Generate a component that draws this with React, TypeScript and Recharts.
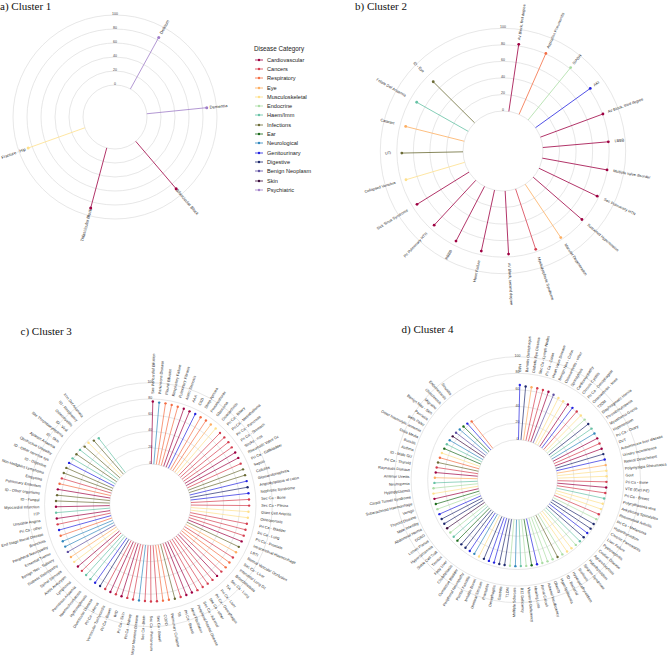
import { PolarAngleAxis, PolarGrid, PolarRadiusAxis, Radar, RadarChart } from "recharts";

// legend order + colours (Spectral-ish palette used by the figure)
const CATEGORIES = [
  "Cardiovascular", "Cancers", "Respiratory", "Eye", "Musculoskeletal", "Endocrine",
  "Haem/Imm", "Infections", "Ear", "Neurological", "Genitourinary", "Digestive",
  "Benign Neoplasm", "Skin", "Psychiatric",
];
const CAT_KEYS = ["CV", "Can", "Res", "Eye", "MSK", "End", "Hae", "Inf", "Ear", "Neu", "GU", "Dig", "Ben", "Ski", "Psy"];
const CAT_COLORS = [
  "#9e0142", "#d53e4f", "#f46d43", "#fdae61", "#fee08b", "#abdda4", "#66c2a5", "#6b6b35",
  "#1b6b1b", "#3288bd", "#2424e0", "#1f2a6e", "#5e4fa2", "#3f0f3f", "#a07ec8",
];

// ---- cluster 1 ----
const C1_LABELS = ["Delirium", "Dementia", "Bifascicular Block", "Trifascicular Block", "Fracture - Hip"];
const C1_VALUES = [84, 86, 89, 89, 86];
const C1_CATS = ["Psy", "Psy", "CV", "CV", "MSK"];

// ---- cluster 2 ----
const C2_LABELS = [
  "AV Block, first degree", "Aspiration Pneumonitis", "SIADH", "AKI", "AV Block, third degree",
  "LBBB", "Multiple valve disorder", "Sec Pulmonary HTN", "Sustained Hypertension",
  "Macular Degeneration", "Myelodysplastic Syndrome", "AV Block, second degree", "Heart Failure",
  "RBBB", "Pri Pulmonary HTN", "Sick Sinus Syndrome", "Collapsed Vertebra", "UTI", "Cataract",
  "Folate Def Anaemia", "ID - Eye",
];
const C2_VALUES = [82, 80.5, 81.5, 81.5, 80.5, 79.5, 79.5, 78, 78, 77.5, 77, 76.5, 75.5, 74.5, 74, 74, 74, 74, 73, 71.5, 70.5];
const C2_CATS = ["CV", "Res", "End", "GU", "CV", "CV", "CV", "CV", "CV", "Eye", "Can", "CV", "CV", "CV", "CV", "CV", "MSK", "Inf", "Eye", "Hae", "Inf"];

// ---- cluster 3 ----
const C3_LABELS = [
  "Sec Pericardial Effusion", "Parkinsons Disease", "Pleural Effusion", "Respiratory Failure",
  "Pulmonary Fibrosis", "Aortic Stenosis", "AAA", "CKD", "Sleep Apnoea", "Pneumothorax",
  "Glaucoma", "Osteoarthritis", "Pri Ca - Biliary", "Pri Ca - Mesothelioma", "Pri Ca - Pancreas",
  "Pri Ca - Stomach", "Stroke - nos", "Rheumatic Valve Dz", "Pri Ca - Gallbladder", "Sepsis",
  "Cellulitis", "Glomerulonephritis", "Angiodysplasia of colon", "Nephrotic Syndrome",
  "Sec Ca - Bone", "Sec Ca - Pleura", "Giant Cell Arteritis", "Osteoporosis", "Pri Ca - Bladder",
  "Pri Ca - Lung", "Pri Ca - Prostate", "Intracerebral Haemorrhage", "LRTI",
  "Retinal Vascular Occlusion", "Sec Ca - Liver", "Interstitial Lung Dz", "Bronchiectasis",
  "Sec Ca - Lung", "TIA", "Pri Ca - Liver", "Pri Ca - Oesophagus", "Sec Ca - other",
  "Sec Ca - Adrenal", "Peripheral Arterial Disease", "Atrial Fibrillation", "Pri Ca - Breast",
  "TB", "Pulmonary Collapse", "COPD", "Sec Ca - Bowel", "Sec Ca - Peritoneum", "Sec Ca - Brain",
  "Motor Neurone Disease", "Pri Ca - Kidney", "Pri Ca - Skin", "IHD", "Pri Ca - Bowel",
  "Ventricular Tachycardia", "Pri Ca - Uterus", "Diverticular Disease", "Hydronephrosis",
  "Haemochromatosis", "Pernicious Anaemia", "Lymphoma", "Aortic Aneurysm", "Spinal Stenosis",
  "Diabetic Retinopathy", "Benign Neo - Salivary", "Essential Tremor", "Peripheral Neuropathy",
  "Bronchitis", "End Stage Renal Disease", "Pri Ca - other", "Unstable Angina", "ITP",
  "Myocardial Infarction", "ID - Fungal", "ID - Other organisms", "Pulmonary Embolism", "Empyema",
  "Non-Hodgkins Lymphoma", "ID - Digestive", "ID - Other nervous sys", "Obstructive Uropathy",
  "Aplastic Anaemia", "ID - Skin", "Sec Thrombocytopenia", "ID - Viral", "Osteomyelitis",
  "ID - Respiratory", "Iron Def Anaemia",
];
const C3_VALUES = [
  77, 76, 76, 75.5, 75, 75, 74.5, 74.5, 74, 74,
  73.5, 73.5, 73, 73, 73, 72.5, 72.5, 72.5, 72, 72,
  72, 72, 71.5, 71.5, 71.5, 71.5, 71, 71, 71, 71,
  71, 71, 70.5, 70.5, 70.5, 70.5, 70.5, 70, 70, 70,
  70, 70, 70, 69.5, 69.5, 69.5, 69.5, 69, 69, 69,
  69, 68.5, 68.5, 68.5, 68, 68, 68, 68, 67.5, 67.5,
  67.5, 67.5, 67, 67, 67, 67, 66.8, 66.8, 66.6, 66.6,
  66.6, 66.4, 66.4, 66.2, 66.2, 66,
  66, 65.2, 65.2, 64.5, 63.5, 63.3, 62.7, 62.3, 61.3, 60, 59.6, 57.8, 57.6, 55, 53.3,
];
const C3_CATS = [
  "CV", "Neu", "Res", "Res", "Res", "CV", "CV", "GU", "Res", "Res",
  "Eye", "MSK", "Can", "Can", "Can", "Can", "CV", "CV", "Can", "Inf",
  "Inf", "GU", "Dig", "GU", "Can", "Can", "MSK", "MSK", "Can", "Can",
  "Can", "CV", "Inf", "Eye", "Can", "Res", "Res", "Can", "CV", "Can",
  "Can", "Can", "Can", "CV", "CV", "Can", "Inf", "Res", "Res", "Can",
  "Can", "Can", "Neu", "Can", "Can", "CV", "Can", "CV", "Can", "Dig",
  "GU", "Hae", "Hae", "Can", "CV", "MSK", "Eye", "Ben", "Neu", "Neu",
  "Res", "GU", "Can", "CV", "Hae", "CV", "Inf", "Inf", "CV", "Res",
  "Can", "Inf", "Inf", "GU", "Hae", "Inf", "Hae", "Inf", "MSK", "Inf", "Hae",
];

// ---- cluster 4 ----
const C4_LABELS = [
  "BPH", "Barretts Oesophagus", "Diabetic Eye Disease", "Sec Ca - Lymph Nodes", "Pri Ca - Colon",
  "Heart Valve Disease", "Benign Neo - Colon", "Osteoarthritis - other", "Spondylosis",
  "Cardiomyopathy", "Chronic Cystitis", "Pri Ca - Oesophageal", "Osteoarthritis - knee", "T2DM",
  "Diaphragmatic Hernia", "Thrombocytopenia", "Myasthenia Gravis", "Hypertension",
  "Pri Ca - Ovary", "DVT", "Autoimmune liver disease", "Urinary Incontinence",
  "Retinal Detachment", "Polymyalgia Rheumatica", "Gout", "Pri Ca - Bone", "VTE (Excl PE)",
  "Pri Ca - Breast", "Polycythaemia vera", "Ankylosing Spondylitis", "Rheumatoid Arthritis",
  "Pri Ca - Melanoma", "Hyperthyroidism", "Chronic Pancreatitis", "Liver Failure",
  "Pyelonephritis", "Coeliac Disease", "Agranulocytosis", "Hypothyroidism", "Sjogren Syndrome",
  "Scoliosis", "Hyperparathyroidism", "ID - Bacterial", "Hyperlipidaemia", "Obesity",
  "Adrenal Insufficiency", "Renal Calculi", "Hearing Loss", "Vitamin D Deficiency",
  "B12 Deficiency", "Multiple Sclerosis", "T1DM", "Gastritis", "Oesophagitis", "Prostatitis",
  "Urethral Stricture", "Irritable Bowel", "Plantar Fasciitis", "Peripheral Neuropathy",
  "Overactive Bladder", "Cholelithiasis", "Fatty Liver", "Tinnitus", "Sickle Cell Trait",
  "Hypercalcaemia", "Lichen Planus", "GORD", "Abdominal Hernia", "Male Infertility",
  "Thyroid Disease", "Vertigo", "Subarachnoid Haemorrhage", "Carpal Tunnel Syndrome",
  "Hypoglycaemia", "Neutropenia", "Anterior Uveitis", "Raynauds Disease", "Pri Ca - Thyroid",
  "ID - Male GU", "Asthma", "Bursitis", "Otitis Media", "Other haemolytic anaemia",
  "Bells Palsy", "Psoriasis", "Benign Neo - Skin", "Migraine", "Otosclerosis", "Endometriosis",
  "Sinusitis",
];
const C4_VALUES = [
  66, 64.5, 64.5, 64.5, 64.2, 64.2, 63, 62, 61.2, 61,
  60.8, 60.6, 60.5, 60.4, 60.3, 60.2, 60, 60, 59.8, 59.8,
  59.7, 59.6, 59.5, 59.4, 59.2, 59, 59, 58.8, 58.6, 58.5,
  58.4, 58.2, 58, 58, 57.8, 57.6, 57.5, 57.4, 57.2, 57,
  57, 56.8, 56.7, 56.6, 56.6, 56.5, 56.4, 56.3, 56.2, 56,
  56, 55.9, 55.8, 55.7, 55.6, 55.5, 55.4, 55.3, 55.2, 55.1,
  55, 55, 54.9, 54.9, 54.8, 54.8, 54.7, 54.7, 54.6, 54.6,
  54.5, 54.5, 54.4, 53.5, 52, 51.4, 50.7, 50.3, 49.8, 49,
  48.4, 47.6, 47, 46.3, 45.7, 45, 44, 43.2, 42.5, 41.2,
];
const C4_CATS = [
  "GU", "Dig", "Eye", "Can", "Can", "CV", "Ben", "MSK", "MSK", "CV",
  "GU", "Can", "MSK", "End", "Dig", "Hae", "Neu", "CV", "Can", "CV",
  "Dig", "GU", "Eye", "MSK", "MSK", "Can", "CV", "Can", "Hae", "MSK",
  "MSK", "Can", "End", "Dig", "Dig", "GU", "Dig", "Hae", "End", "MSK",
  "MSK", "End", "Inf", "End", "End", "End", "GU", "Ear", "End", "Hae",
  "Neu", "End", "Dig", "Dig", "GU", "GU", "Dig", "MSK", "Neu", "GU",
  "Dig", "Dig", "Ear", "Hae", "End", "Ski", "Dig", "Dig", "GU", "End",
  "Ear", "CV", "MSK", "End", "Hae", "Eye", "CV", "Can", "Inf", "Res",
  "MSK", "Ear", "Hae", "Neu", "Ski", "Ben", "Neu", "Ear", "GU", "Res",
];

const RADIUS_TICKS = [0, 20, 40, 60, 80, 100];
const FONT = "'Liberation Sans', Arial, sans-serif";

function colorOf(cat: string) {
  return CAT_COLORS[CAT_KEYS.indexOf(cat)] ?? "#888";
}

// the figure leaves an empty wedge before 12 o'clock -> pad with hidden slots
function buildRows(labels: string[], values: number[], cats: string[], step: number, trailing: number) {
  const rows: any[] = [];
  labels.forEach((name, i) => {
    rows.push({ name, value: values[i], cat: cats[i] });
    for (let k = 1; k < step; k++) rows.push({ name: `__s${i}_${k}`, value: 0, gap: true });
  });
  for (let k = 0; k < trailing; k++) rows.push({ name: `__t${k}`, value: 0, gap: true });
  return rows;
}

interface PanelCfg {
  left: number; top: number; width: number; height: number;
  cx: number; cy: number; inner: number; outer: number; start: number;
  labelR: number; labelSize: number; dotR: number; lineW: number;
  rows: any[];
}

const PANELS: PanelCfg[] = [
  { left: 0, top: 0, width: 250, height: 260, cx: 115, cy: 117, inner: 32, outer: 102, start: 61.2,
    labelR: 95, labelSize: 4.2, dotR: 1.5, lineW: 0.8, rows: buildRows(C1_LABELS, C1_VALUES, C1_CATS, 2, 3) },
  { left: 335, top: 0, width: 334, height: 320, cx: 168, cy: 151, inner: 40, outer: 122.7, start: 81.6,
    labelR: 112, labelSize: 3.8, dotR: 1.4, lineW: 0.8, rows: buildRows(C2_LABELS, C2_VALUES, C2_CATS, 2, 5) },
  { left: 0, top: 330, width: 330, height: 328, cx: 150.3, cy: 174.7, inner: 40.7, outer: 122, start: 88.6,
    labelR: 111, labelSize: 3.8, dotR: 1.2, lineW: 0.7, rows: buildRows(C3_LABELS, C3_VALUES, C3_CATS, 1, 10) },
  { left: 335, top: 330, width: 334, height: 328, cx: 182.5, cy: 149.7, inner: 40, outer: 123, start: 88.6,
    labelR: 108, labelSize: 3.8, dotR: 1.2, lineW: 0.7, rows: buildRows(C4_LABELS, C4_VALUES, C4_CATS, 1, 10) },
];

function makeStick(cfg: PanelCfg) {
  return (props: any) => {
    const key = `dot-${props.index}`;
    const pt = props.payload ?? {};
    const row = pt.payload ?? pt;
    const x = props.cx, y = props.cy;
    if (!row || row.gap || !Number.isFinite(x) || !Number.isFinite(y)) return <g key={key} />;
    const dx = x - cfg.cx, dy = y - cfg.cy;
    const len = Math.hypot(dx, dy) || 1;
    const color = colorOf(row.cat);
    return (
      <g key={key}>
        <line x1={cfg.cx + (dx / len) * cfg.inner} y1={cfg.cy + (dy / len) * cfg.inner} x2={x} y2={y}
          stroke={color} strokeWidth={cfg.lineW} />
        <circle cx={x} cy={y} r={cfg.dotR} fill={color} />
      </g>
    );
  };
}

function makeTick(cfg: PanelCfg) {
  return (props: any) => {
    const name = String(props.payload?.value ?? "");
    if (!name || name.startsWith("__")) return <g />;
    let a = props.payload?.coordinate;
    if (!Number.isFinite(a)) a = (Math.atan2(cfg.cy - props.y, props.x - cfg.cx) * 180) / Math.PI;
    const deg = ((a % 360) + 540) % 360 - 180; // (-180, 180]
    const rad = (deg * Math.PI) / 180;
    const x = cfg.cx + cfg.labelR * Math.cos(rad);
    const y = cfg.cy - cfg.labelR * Math.sin(rad);
    const right = deg >= -90 && deg <= 90;
    const rot = right ? -deg : 180 - deg;
    return (
      <text x={x} y={y} transform={`rotate(${rot} ${x} ${y})`} textAnchor={right ? "start" : "end"}
        dominantBaseline="central" fontSize={cfg.labelSize} fill="#2b2b2b" fontFamily={FONT}>
        {name}
      </text>
    );
  };
}

function ClusterPanel({ cfg }: { cfg: PanelCfg }) {
  return (
    <div style={{ position: "absolute", left: cfg.left, top: cfg.top }}>
      <RadarChart
        width={cfg.width}
        height={cfg.height}
        data={cfg.rows}
        cx={cfg.cx}
        cy={cfg.cy}
        innerRadius={cfg.inner}
        outerRadius={cfg.outer}
        startAngle={cfg.start}
        endAngle={cfg.start - 360}
        margin={{ top: 0, right: 0, bottom: 0, left: 0 }}
      >
        <PolarGrid gridType="circle" radialLines={false} stroke="#d6d6d6" strokeWidth={0.6} />
        <PolarAngleAxis dataKey="name" tick={makeTick(cfg)} tickLine={false} axisLine={false} />
        <PolarRadiusAxis
          angle={90}
          domain={[0, 100]}
          ticks={RADIUS_TICKS as any}
          tickCount={6}
          orientation="middle"
          axisLine={false}
          tick={{ fontSize: 3.5, fill: "#444", fontFamily: FONT }}
        />
        <Radar
          dataKey="value"
          stroke="none"
          fill="none"
          dot={makeStick(cfg)}
          isAnimationActive={false}
        />
      </RadarChart>
    </div>
  );
}

function CategoryLegend() {
  return (
    <div style={{ position: "absolute", left: 254, top: 45, fontFamily: FONT, color: "#222" }}>
      <div style={{ fontSize: 6.3, lineHeight: "8px", marginBottom: 2 }}>Disease Category</div>
      {CATEGORIES.map((c, i) => (
        <div key={c} style={{ display: "flex", alignItems: "center", height: 9.3 }}>
          <svg width={10} height={6} style={{ marginRight: 3 }}>
            <line x1={1} y1={3} x2={9} y2={3} stroke={CAT_COLORS[i]} strokeWidth={0.8} />
            <circle cx={5} cy={3} r={1.2} fill={CAT_COLORS[i]} />
          </svg>
          <span style={{ fontSize: 5.6 }}>{c}</span>
        </div>
      ))}
    </div>
  );
}

const TITLES = [
  { text: "a) Cluster 1", left: 0, top: 0 },
  { text: "b) Cluster 2", left: 355, top: 0 },
  { text: "c) Cluster 3", left: 20.5, top: 325 },
  { text: "d) Cluster 4", left: 401.5, top: 323 },
];

export default function App() {
  return (
    <div style={{ position: "absolute", left: 0, top: 0, width: 669, height: 658, background: "#fff", overflow: "hidden" }}>
      {PANELS.map((p, i) => (
        <ClusterPanel key={i} cfg={p} />
      ))}
      <CategoryLegend />
      {TITLES.map((t) => (
        <div key={t.text} style={{ position: "absolute", left: t.left, top: t.top, fontSize: 11, lineHeight: "12px",
          fontFamily: "'Liberation Serif', 'Times New Roman', serif", color: "#111" }}>
          {t.text}
        </div>
      ))}
    </div>
  );
}
